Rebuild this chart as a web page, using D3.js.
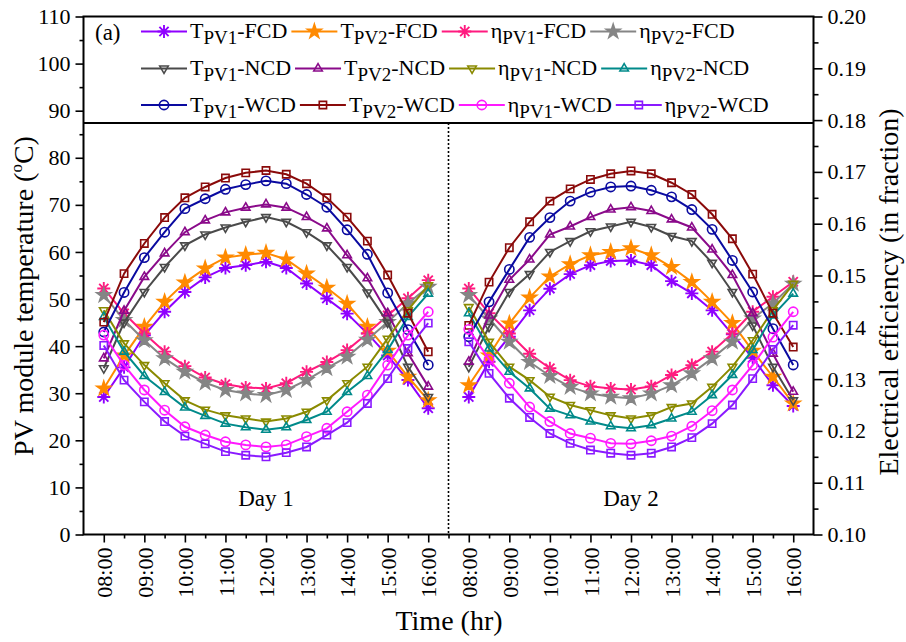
<!DOCTYPE html>
<html>
<head>
<meta charset="utf-8">
<script src="https://cdn.jsdelivr.net/npm/d3@7/dist/d3.min.js"></script>
<style>
body { margin: 0; background: #fff; }
svg { font-family: "Liberation Serif", "Times New Roman", serif; }
</style>
</head>
<body>
<svg id="chart" width="906" height="642"></svg>
<script>
//=============================================================
// data (day 1 then day 2, every half hour 08:00-16:00)

var slots = ["08:00","08:30","09:00","09:30","10:00","10:30","11:00","11:30","12:00",
             "12:30","13:00","13:30","14:00","14:30","15:00","15:30","16:00"];
var hourLabels = ["08:00","09:00","10:00","11:00","12:00","13:00","14:00","15:00","16:00"];
var dayLabels = ["Day 1", "Day 2"];

var tPV1FCD = [29.2,35.5,42.3,47.3,51.5,54.6,56.6,57.2,57.9,56.6,53.3,50.1,46.9,42.7,38.0,32.8,26.8,
               29.2,36.7,42.0,47.6,52.2,55.3,57.2,58.1,58.2,57.2,53.8,51.2,47.6,42.5,37.5,31.7,27.3];
var tPV2FCD = [31.0,38.0,44.1,49.4,53.5,56.5,58.8,59.4,59.8,58.4,55.4,52.4,49.0,44.1,39.0,33.5,28.5,
               31.7,38.0,44.8,50.3,54.8,57.4,59.3,60.0,60.8,59.3,56.8,53.6,49.4,44.9,39.0,33.5,27.8];
var etaPV1FCD = [0.1475,0.1427,0.1388,0.1353,0.1325,0.1303,0.1290,0.1284,0.1282,0.1292,0.1314,0.1333,0.1356,0.1388,0.1423,0.1456,0.1491,
                 0.1475,0.1427,0.1388,0.1349,0.1321,0.1298,0.1286,0.1282,0.1280,0.1286,0.1308,0.1327,0.1353,0.1388,0.1430,0.1459,0.1488];
var etaPV2FCD = [0.1462,0.1414,0.1375,0.1340,0.1314,0.1293,0.1279,0.1272,0.1269,0.1279,0.1298,0.1321,0.1343,0.1376,0.1410,0.1446,0.1478,
                 0.1462,0.1417,0.1372,0.1333,0.1306,0.1285,0.1272,0.1266,0.1263,0.1272,0.1288,0.1311,0.1340,0.1372,0.1417,0.1446,0.1484];
var tPV1NCD = [35.3,45.0,51.5,56.8,61.4,63.7,65.2,66.4,67.4,66.4,64.2,61.4,56.8,51.4,45.0,35.6,29.2,
               35.6,44.1,51.5,55.3,60.0,62.3,64.4,65.4,66.4,65.3,63.4,62.3,57.7,51.5,44.4,35.6,28.5];
var tPV2NCD = [37.4,47.5,54.7,59.7,64.2,66.7,68.4,69.4,70.1,69.4,67.4,65.0,59.3,54.4,47.0,38.5,31.4,
               36.7,46.5,54.1,58.4,63.7,65.4,67.4,69.0,69.5,68.7,66.9,65.2,60.5,55.1,47.0,38.4,30.3];
var etaPV1NCD = [0.1433,0.1369,0.1327,0.1292,0.1259,0.1241,0.1230,0.1224,0.1218,0.1224,0.1237,0.1259,0.1292,0.1324,0.1378,0.1433,0.1481,
                 0.1439,0.1372,0.1324,0.1298,0.1266,0.1250,0.1240,0.1230,0.1224,0.1230,0.1246,0.1253,0.1285,0.1324,0.1375,0.1433,0.1484];
var etaPV2NCD = [0.1420,0.1353,0.1306,0.1275,0.1245,0.1229,0.1214,0.1207,0.1202,0.1207,0.1221,0.1237,0.1275,0.1306,0.1356,0.1420,0.1465,
                 0.1427,0.1359,0.1314,0.1282,0.1243,0.1230,0.1218,0.1209,0.1205,0.1211,0.1224,0.1237,0.1269,0.1308,0.1356,0.1423,0.1465];
var tPV1WCD = [43.0,51.4,58.8,64.2,69.2,71.3,73.3,74.3,75.1,74.5,72.2,69.5,64.7,59.5,51.3,43.5,36.0,
               42.0,49.4,56.3,63.1,67.3,70.8,72.7,73.8,74.0,73.1,71.7,69.0,64.8,58.2,51.5,43.7,36.0];
var tPV2WCD = [45.1,55.4,61.8,67.3,71.5,73.8,75.7,76.8,77.3,76.5,74.5,71.5,67.4,62.3,55.1,47.0,38.8,
               44.4,53.6,60.9,66.4,70.8,73.4,75.4,76.6,77.2,76.6,74.7,72.2,68.0,62.8,55.3,47.0,39.8];
var etaPV1WCD = [0.1385,0.1327,0.1279,0.1240,0.1208,0.1192,0.1179,0.1173,0.1169,0.1173,0.1189,0.1205,0.1237,0.1269,0.1327,0.1385,0.1430,
                 0.1396,0.1338,0.1292,0.1246,0.1218,0.1195,0.1186,0.1176,0.1175,0.1181,0.1190,0.1209,0.1239,0.1279,0.1327,0.1381,0.1430];
var etaPV2WCD = [0.1365,0.1298,0.1256,0.1218,0.1190,0.1175,0.1160,0.1153,0.1150,0.1158,0.1169,0.1192,0.1216,0.1253,0.1301,0.1359,0.1408,
                 0.1372,0.1311,0.1263,0.1226,0.1195,0.1176,0.1163,0.1157,0.1153,0.1157,0.1169,0.1187,0.1214,0.1250,0.1301,0.1357,0.1404];

var series = [
  {sym: "T", sub: "PV1", suf: "-FCD", values: tPV1FCD,   axis: "L", color: "#8f00ff", marker: "asterisk"},
  {sym: "T", sub: "PV2", suf: "-FCD", values: tPV2FCD,   axis: "L", color: "#ff8a00", marker: "star"},
  {sym: "\u03b7", sub: "PV1", suf: "-FCD", values: etaPV1FCD, axis: "R", color: "#ff1a7f", marker: "asterisk"},
  {sym: "\u03b7", sub: "PV2", suf: "-FCD", values: etaPV2FCD, axis: "R", color: "#858585", marker: "star"},
  {sym: "T", sub: "PV1", suf: "-NCD", values: tPV1NCD,   axis: "L", color: "#4a4a4a", marker: "down"},
  {sym: "T", sub: "PV2", suf: "-NCD", values: tPV2NCD,   axis: "L", color: "#8a0a8a", marker: "up"},
  {sym: "\u03b7", sub: "PV1", suf: "-NCD", values: etaPV1NCD, axis: "R", color: "#8a8a00", marker: "down"},
  {sym: "\u03b7", sub: "PV2", suf: "-NCD", values: etaPV2NCD, axis: "R", color: "#008a8a", marker: "up"},
  {sym: "T", sub: "PV1", suf: "-WCD", values: tPV1WCD,   axis: "L", color: "#0a0aa0", marker: "circle"},
  {sym: "T", sub: "PV2", suf: "-WCD", values: tPV2WCD,   axis: "L", color: "#8a0a0a", marker: "square"},
  {sym: "\u03b7", sub: "PV1", suf: "-WCD", values: etaPV1WCD, axis: "R", color: "#ff1aff", marker: "circle"},
  {sym: "\u03b7", sub: "PV2", suf: "-WCD", values: etaPV2WCD, axis: "R", color: "#8a1aff", marker: "square"}
];

//=============================================================

var vis = d3.select("#chart");
var W = 906, H = 642;
var L = 83.5, R = 813.5, T = 16.5, B = 534.5, legendBottom = 123;

var n = slots.length;
function pos(k) { return Math.floor(k / n) * (n + 1) + (k % n); }

var xScale = d3.scaleLinear().domain([-1, 2 * n + 1]).range([L, R]);
var yLeft = d3.scaleLinear().domain([0, 110]).range([B, T]);
var yRight = d3.scaleLinear().domain([0.10, 0.20]).range([B, T]);

vis.append("rect").attr("width", W).attr("height", H).attr("fill", "#fff");

// axes
var majorX = [], minorX = [], xText = {};
dayLabels.forEach(function(d, di) {
  hourLabels.forEach(function(h, hi) {
    var p = di * (n + 1) + hi * 2;
    majorX.push(p);
    xText[p] = h;
  });
});
for (var i = 1; i < 2 * n + 1; i += 2) minorX.push(i);

function styleAxis(g) {
  g.attr("font-family", null);
  g.select(".domain").remove();
  g.selectAll("line").attr("stroke", "#000").attr("stroke-width", 1.6);
  g.selectAll("text").attr("fill", "#000").style("font-size", "22px")
    .style("font-family", "'Liberation Serif', 'Times New Roman', serif");
}

vis.append("g").attr("transform", "translate(" + L + ",0)")
  .call(d3.axisLeft(yLeft).tickValues(d3.range(0, 111, 10)).tickSize(8).tickPadding(5).tickFormat(d3.format("d")))
  .call(styleAxis);
vis.append("g").attr("transform", "translate(" + L + ",0)")
  .call(d3.axisLeft(yLeft).tickValues(d3.range(5, 110, 10)).tickSize(4).tickFormat(""))
  .call(styleAxis);

vis.append("g").attr("transform", "translate(" + R + ",0)")
  .call(d3.axisRight(yRight).tickValues(d3.range(10, 21).map(function(v) { return v / 100; }))
    .tickSize(9).tickPadding(5).tickFormat(d3.format(".2f")))
  .call(styleAxis);
vis.append("g").attr("transform", "translate(" + R + ",0)")
  .call(d3.axisRight(yRight).tickValues(d3.range(10, 20).map(function(v) { return v / 100 + 0.005; }))
    .tickSize(5).tickFormat(""))
  .call(styleAxis);

var xAxisG = vis.append("g").attr("transform", "translate(0," + B + ")")
  .call(d3.axisBottom(xScale).tickValues(majorX).tickSize(8).tickFormat(function(v) { return xText[v]; }))
  .call(styleAxis);
xAxisG.selectAll("text")
  .attr("transform", "rotate(-90)")
  .attr("x", -13).attr("y", 0).attr("dy", "0.35em")
  .style("text-anchor", "end");
vis.append("g").attr("transform", "translate(0," + B + ")")
  .call(d3.axisBottom(xScale).tickValues(minorX).tickSize(4).tickFormat(""))
  .call(styleAxis);

// frame, legend box, day separator
vis.append("rect").attr("x", L).attr("y", T).attr("width", R - L).attr("height", B - T)
  .attr("fill", "none").attr("stroke", "#000").attr("stroke-width", 2);
vis.append("line").attr("x1", L).attr("x2", R).attr("y1", legendBottom).attr("y2", legendBottom)
  .attr("stroke", "#000").attr("stroke-width", 2);
vis.append("line").attr("x1", xScale(n)).attr("x2", xScale(n)).attr("y1", legendBottom).attr("y2", B)
  .attr("stroke", "#000").attr("stroke-width", 1.6).attr("stroke-dasharray", "2,2");

// markers
function markerPath(type) {
  if (type === "asterisk") {
    var s = 6.5, a = 4.6;
    return "M" + (-s) + ",0L" + s + ",0M0," + (-s) + "L0," + s +
           "M" + (-a) + "," + (-a) + "L" + a + "," + a + "M" + (-a) + "," + a + "L" + a + "," + (-a);
  }
  if (type === "star") return d3.symbol(d3.symbolStar, 60)();
  if (type === "up" || type === "down") return d3.symbol(d3.symbolTriangle2, 52)();
  if (type === "circle") return d3.symbol(d3.symbolCircle, 68)();
  if (type === "square") return d3.symbol(d3.symbolSquare2, 68)();
}

function drawMarker(g, s, x, y) {
  g.append("path")
    .attr("d", markerPath(s.marker))
    .attr("transform", "translate(" + x + "," + y + ")" + (s.marker === "down" ? " rotate(180)" : ""))
    .attr("fill", s.marker === "star" ? s.color : "none")
    .attr("stroke", s.color)
    .attr("stroke-width", s.marker === "asterisk" ? 1.9 : 1.6);
}

// series
var plot = vis.append("g");
series.forEach(function(s) {
  var yScale = s.axis === "L" ? yLeft : yRight;
  var lineGen = d3.line()
    .x(function(p) { return xScale(p[0]); })
    .y(function(p) { return yScale(p[1]); });
  var g = plot.append("g");
  dayLabels.forEach(function(d, di) {
    var pts = [];
    for (var k = di * n; k < (di + 1) * n; k++) pts.push([pos(k), s.values[k]]);
    g.append("path").attr("d", lineGen(pts))
      .attr("fill", "none").attr("stroke", s.color).attr("stroke-width", 2);
  });
  s.values.forEach(function(v, k) {
    drawMarker(g, s, xScale(pos(k)), yScale(v));
  });
});

// day labels
dayLabels.forEach(function(d, di) {
  vis.append("text").attr("x", xScale(di * (n + 1) + (n - 1) / 2)).attr("y", 506)
    .attr("text-anchor", "middle").style("font-size", "23px").text(d);
});

// legend
vis.append("text").attr("x", 95).attr("y", 40).style("font-size", "23px").text("(a)");
var rowY = [38, 75, 111.5];
for (var r = 0; r < 3; r++) {
  var cx = 141;
  for (var c = 0; c < 4; c++) {
    var s = series[r * 4 + c];
    var g = vis.append("g");
    g.append("line").attr("x1", cx).attr("x2", cx + 46).attr("y1", rowY[r] - 6.5).attr("y2", rowY[r] - 6.5)
      .attr("stroke", s.color).attr("stroke-width", 2);
    drawMarker(g, s, cx + 23, rowY[r] - 6.5);
    var t = g.append("text").attr("x", cx + 49).attr("y", rowY[r]).style("font-size", "22px");
    t.append("tspan").text(s.sym);
    t.append("tspan").attr("dy", 6).style("font-size", "19px").text(s.sub);
    t.append("tspan").attr("dy", -6).text(s.suf);
    cx = cx + 49 + t.node().getComputedTextLength() + 4;
  }
}

// axis titles
var lt = vis.append("text").attr("transform", "translate(33,296) rotate(-90)")
  .attr("text-anchor", "middle").style("font-size", "28px");
lt.append("tspan").text("PV module temperature (");
lt.append("tspan").attr("dy", -11).style("font-size", "17px").text("o");
lt.append("tspan").attr("dy", 11).text("C)");

vis.append("text").attr("transform", "translate(898,292) rotate(-90)")
  .attr("text-anchor", "middle").style("font-size", "28px").text("Electrical efficiency (in fraction)");

vis.append("text").attr("x", 449).attr("y", 630).attr("text-anchor", "middle")
  .style("font-size", "28px").text("Time (hr)");
</script>
</body>
</html>
